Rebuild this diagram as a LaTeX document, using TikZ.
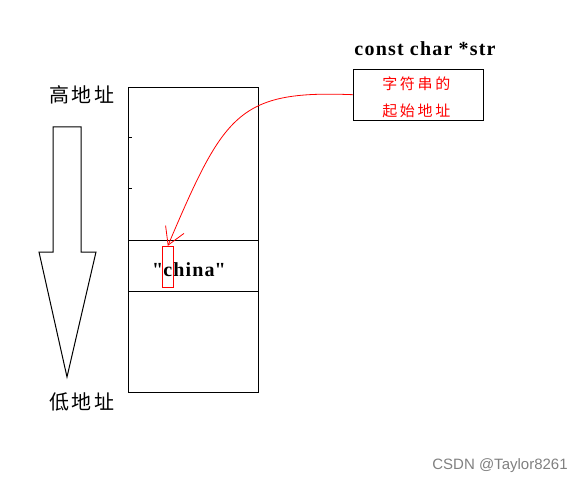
\documentclass[tikz,border=0pt]{standalone}
\usepackage{fontspec}
\setmainfont{Liberation Serif}
\newfontfamily\cjk{Noto Sans CJK SC}[LetterSpace=12]
\newfontfamily\cjkred{Noto Sans CJK SC}[LetterSpace=18]
\newfontfamily\latinwide{Liberation Serif}[LetterSpace=6]
\newfontfamily\markfont{Liberation Sans}
\usetikzlibrary{arrows.meta}
\begin{document}
\begin{tikzpicture}[x=1pt,y=-1pt,line width=1pt,
    addr/.style={font={\cjk\fontsize{20}{22}\selectfont}},
    cell/.style={font={\latinwide\bfseries\fontsize{20}{22}\selectfont}},
    ptrbox/.style={draw,minimum width=130pt,minimum height=51pt},
    ptrtext/.style={align=center,text=red,font={\cjkred\fontsize{15}{27}\selectfont}},
    charbox/.style={draw=red,line width=0.8pt,minimum width=11pt,minimum height=41.5pt,inner sep=0pt}]
\useasboundingbox (0,0) rectangle (585,486);
% memory block
\draw (128.5,87.5) rectangle (258,392.5);
\draw (128.5,240) -- (258,240);
\draw (128.5,291) -- (258,291);
\draw (128.5,138) -- ++(3,0);
\draw (128.5,189) -- ++(3,0);
% direction arrow
\draw (53,127) -- (81,127) -- (81,252) -- (96,252) -- (67,377) -- (39,252) -- (53,252) -- cycle;
\node[addr] (high) at (82,95) {高地址};
\node[addr] (low) at (82,402) {低地址};
% string and pointer
\node[cell] (str) at (189,270) {\textquotedbl china\textquotedbl};
\node[charbox] (chr) at (167.8,267) {};
\node[ptrbox] (ptr) at (418.3,94.7) {};
\node[ptrtext] (ptrlabel) at ([xshift=-2pt,yshift=-2.5pt]ptr.center) {字符串的\\起始地址};
\node[cell] (ptrname) at (425,49) {const char *str};
\draw[red,line width=0.8pt,-{Straight Barb[length=17pt,width=20pt]}]
  (ptr.west) .. controls (238,90) and (224,114) .. (chr.north);
\node[text=gray,font={\markfont\fontsize{15}{17}\selectfont}] (wm) at (500,466) {CSDN @Taylor8261};
\end{tikzpicture}
\end{document}
